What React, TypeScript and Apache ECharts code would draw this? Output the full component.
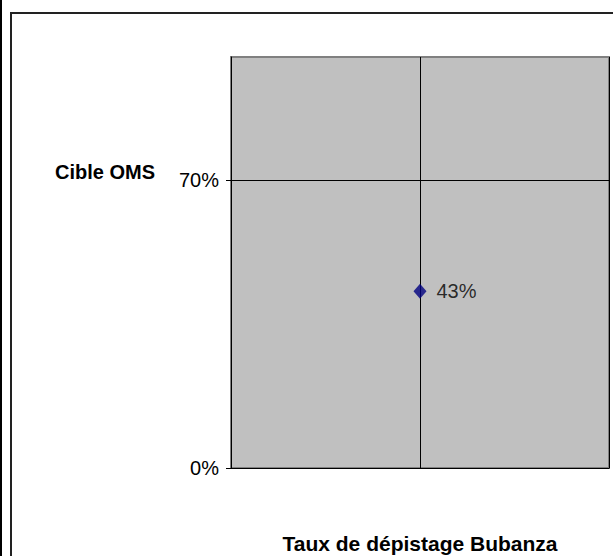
import React, { useEffect, useRef } from "react";
import * as echarts from "echarts";

const categories = ["Taux de dépistage Bubanza"];
const xPositions = [1];
const values = [43];
const yTickLabels = [0, 70];
const targetLabel = "Cible OMS";

export default function App() {
  const ref = useRef<HTMLDivElement>(null);
  useEffect(() => {
    if (!ref.current) return;
    const chart = echarts.init(ref.current, null, { renderer: "svg" });
    const font = "'Liberation Sans', Arial, sans-serif";
    chart.setOption({
      animation: false,
      backgroundColor: "#ffffff",
      grid: {
        left: 231,
        top: 57,
        right: 4,
        bottom: 88,
        show: true,
        backgroundColor: "#C0C0C0",
        borderColor: "#808080",
        borderWidth: 2,
      },
      xAxis: {
        type: "value",
        min: 0,
        max: 2,
        interval: 1,
        axisLine: { show: true, onZero: false, lineStyle: { color: "#000", width: 1 } },
        axisTick: { show: false },
        axisLabel: { show: false },
        splitLine: { show: true, lineStyle: { color: "#000", width: 1 } },
      },
      yAxis: {
        type: "value",
        min: 0,
        max: 100,
        interval: 70,
        axisLine: { show: true, lineStyle: { color: "#000", width: 1 } },
        axisTick: { show: true, length: 5, lineStyle: { color: "#000" }, customValues: yTickLabels },
        axisLabel: {
          fontFamily: font,
          fontSize: 20,
          color: "#000",
          margin: 12,
          customValues: yTickLabels,
          formatter: (v: number) => (yTickLabels.includes(v) ? v + "%" : ""),
        },
        splitLine: { show: true, lineStyle: { color: "#000", width: 1 } },
      },
      graphic: [
        { type: "rect", shape: { x: 0, y: 0, width: 2, height: 556 }, style: { fill: "#000" } },
        {
          type: "rect",
          shape: { x: 11, y: 13, width: 640, height: 600 },
          style: { fill: "none", stroke: "#222", lineWidth: 2 },
          silent: true,
          z: -1,
        },
        {
          type: "text",
          x: 55,
          y: 172,
          style: {
            text: targetLabel,
            fontFamily: font,
            fontSize: 20,
            fontWeight: "bold",
            fill: "#000",
            textVerticalAlign: "middle",
          },
        },
        {
          type: "text",
          x: 420,
          y: 543,
          style: {
            text: categories[0],
            fontFamily: font,
            fontSize: 21,
            fontWeight: "bold",
            fill: "#000",
            textAlign: "center",
            textVerticalAlign: "middle",
          },
        },
      ],
      series: [
        {
          type: "scatter",
          data: xPositions.map((x, i) => [x, values[i]]),
          symbol: "diamond",
          symbolSize: [13, 15],
          itemStyle: { color: "#000080" },
          label: {
            show: true,
            position: "right",
            distance: 10,
            formatter: (p: any) => p.value[1] + "%",
            fontFamily: font,
            fontSize: 20,
            color: "#000",
          },
        },
      ],
    });
    return () => chart.dispose();
  }, []);
  return <div ref={ref} style={{ width: 613, height: 556, position: "absolute", left: 0, top: 0 }} />;
}
